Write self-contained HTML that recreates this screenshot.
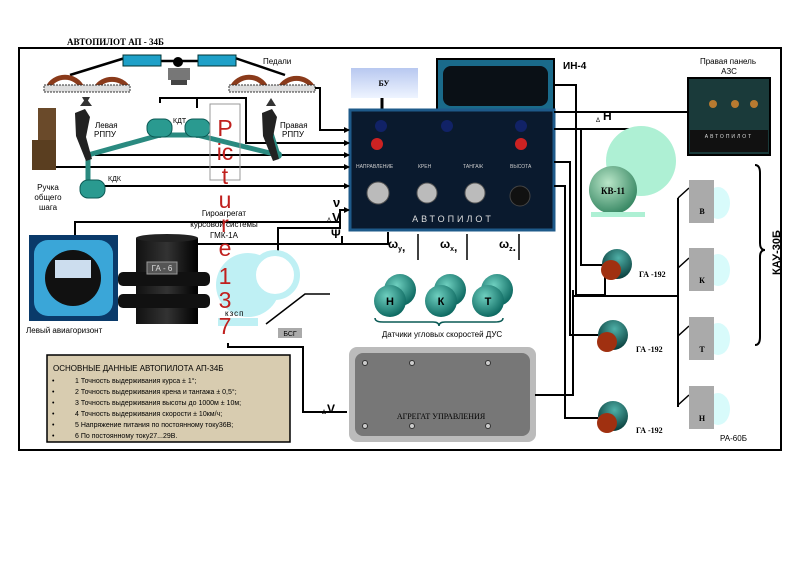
<!DOCTYPE html>
<html><head><meta charset="utf-8"><style>
html,body{margin:0;padding:0;background:#fff;}
svg{display:block;font-family:"Liberation Sans",sans-serif;}
</style></head><body>
<svg width="800" height="563" viewBox="0 0 800 563" xmlns="http://www.w3.org/2000/svg">
<defs>
<radialGradient id="tg" cx="40%" cy="35%" r="65%"><stop offset="0" stop-color="#6fd0c0"/><stop offset="1" stop-color="#0e6a62"/></radialGradient>
<radialGradient id="kv" cx="40%" cy="35%" r="65%"><stop offset="0" stop-color="#b9e6c8"/><stop offset="1" stop-color="#3b8a66"/></radialGradient>
<radialGradient id="ga" cx="55%" cy="30%" r="70%"><stop offset="0" stop-color="#4fb0a8"/><stop offset="1" stop-color="#073a38"/></radialGradient>
<linearGradient id="bu" x1="0" y1="0" x2="0" y2="1"><stop offset="0" stop-color="#b8c8f0"/><stop offset="1" stop-color="#eef4ff"/></linearGradient>
<linearGradient id="cyl" x1="0" y1="0" x2="1" y2="0"><stop offset="0" stop-color="#111"/><stop offset="0.5" stop-color="#333"/><stop offset="1" stop-color="#000"/></linearGradient>
</defs>
<text x="67" y="45" font-family="Liberation Serif,serif" font-weight="bold" font-size="9">АВТОПИЛОТ  АП - 34Б</text>
<rect x="19" y="48" width="762" height="402" fill="none" stroke="#000" stroke-width="2"/>

<!-- pedals -->
<g stroke="#000" stroke-width="2.5" fill="none">
<line x1="70" y1="75" x2="125" y2="58"/><line x1="235" y1="58" x2="285" y2="75"/>
<line x1="160" y1="61" x2="198" y2="61"/>
</g>
<rect x="123" y="55" width="38" height="11" fill="#1ea0c8" stroke="#033" />
<rect x="198" y="55" width="38" height="11" fill="#1ea0c8" stroke="#033"/>
<circle cx="178" cy="62" r="5" fill="#000"/>
<rect x="168" y="68" width="22" height="12" fill="#777"/><rect x="171" y="80" width="16" height="5" fill="#444"/>
<g fill="none" stroke="#8a3a1a" stroke-width="5">
<path d="M48 88 A18 16 0 0 1 82 88"/><path d="M96 88 A18 16 0 0 1 128 88"/>
<path d="M232 88 A18 16 0 0 1 266 88"/><path d="M280 88 A18 16 0 0 1 313 88"/>
</g>
<rect x="44" y="85" width="86" height="7" fill="#ddd" stroke="#333" stroke-dasharray="2 1"/>
<rect x="229" y="85" width="86" height="7" fill="#ddd" stroke="#333" stroke-dasharray="2 1"/>
<polygon points="86,104 82,97 90,97" fill="#333"/><polygon points="86,98 80,106 92,106" fill="#333"/>
<polygon points="271,98 266,106 276,106" fill="#333"/>
<text x="263" y="64" font-size="8">Педали</text>

<!-- lines left section -->
<g stroke="#000" stroke-width="2" fill="none">
<polyline points="160,103 160,98 246,98 246,143 350,143"/>
<line x1="197" y1="98" x2="197" y2="108"/>
<polyline points="315,88 320,88 320,130 350,130"/>
<line x1="95" y1="155" x2="350" y2="155"/>
<line x1="55" y1="167" x2="350" y2="167"/>
<line x1="100" y1="186" x2="350" y2="186"/>
<polyline points="75,240 75,222 340,222 340,210 350,210"/>
<polyline points="278,265 278,228 340,228 340,222"/>
<polyline points="180,244 300,244 320,244 342,244 342,236"/>
</g>
<!-- teal linkage -->
<g stroke="#2a8a80" stroke-width="5" fill="none" stroke-linejoin="round">
<polyline points="88,155 160,135 197,135 278,155"/><line x1="88" y1="155" x2="88" y2="183"/>
<line x1="88" y1="155" x2="80" y2="130"/><line x1="278" y1="155" x2="270" y2="130"/>
</g>
<g fill="#2a8a80"><circle cx="88" cy="155" r="4"/><circle cx="278" cy="155" r="4"/><circle cx="160" cy="135" r="3"/><circle cx="197" cy="135" r="3"/></g>
<g fill="#2a9a90" stroke="#0c5a55">
<rect x="147" y="119" width="25" height="18" rx="8"/><rect x="185" y="119" width="25" height="18" rx="8"/>
<rect x="80" y="180" width="25" height="18" rx="8"/>
</g>
<text x="173" y="123" font-size="7">КДТ</text><text x="108" y="181" font-size="7">КДК</text>
<!-- RPPU -->
<path d="M75 113 l10 -4 l5 8 l-4 20 l6 22 l-6 2 l-10 -25 z" fill="#222"/>
<path d="M262 113 l10 -4 l5 8 l-4 20 l6 22 l-6 2 l-10 -25 z" fill="#222"/>
<text x="95" y="128" font-size="8">Левая</text><text x="94" y="137" font-size="8">РППУ</text>
<text x="280" y="128" font-size="8">Правая</text><text x="282" y="137" font-size="8">РППУ</text>
<!-- handle -->
<rect x="38" y="108" width="18" height="60" fill="#6a4a2a"/><rect x="32" y="140" width="24" height="30" fill="#5a3e20"/>
<text x="48" y="190" font-size="8" text-anchor="middle">Ручка</text><text x="48" y="200" font-size="8" text-anchor="middle">общего</text><text x="48" y="210" font-size="8" text-anchor="middle">шага</text>

<text x="224" y="216" font-size="8" text-anchor="middle">Гироагрегат</text>
<text x="224" y="227" font-size="8" text-anchor="middle">курсовой системы</text>
<text x="224" y="238" font-size="8" text-anchor="middle">ГМК-1А</text>
<text x="333" y="207" font-size="13" font-weight="bold">ν</text>
<text x="327" y="222" font-size="6">Δ</text><text x="332" y="222" font-size="13" font-weight="bold">V</text>
<text x="331" y="238" font-size="12" font-weight="bold">Ψ</text>

<!-- aviagorizont -->
<rect x="29" y="235" width="89" height="86" fill="#0a3a6a"/>
<rect x="34" y="240" width="79" height="76" rx="14" fill="#3aa6d8"/>
<circle cx="73" cy="278" r="28" fill="#111"/><rect x="55" y="260" width="36" height="18" fill="#cde"/>
<text x="26" y="333" font-size="8">Левый авиагоризонт</text>
<!-- GA-6 -->
<rect x="136" y="238" width="62" height="86" fill="url(#cyl)"/>
<ellipse cx="167" cy="238" rx="31" ry="4" fill="#222"/>
<rect x="118" y="272" width="92" height="14" rx="5" fill="#111"/><rect x="118" y="294" width="92" height="14" rx="5" fill="#111"/>
<rect x="147" y="262" width="30" height="12" fill="#555" stroke="#999"/>
<text x="162" y="271" font-size="8" fill="#ddd" text-anchor="middle">ГА - 6</text>
<!-- KZSP -->
<g fill="#bff0f4"><circle cx="248" cy="285" r="32"/><circle cx="275" cy="275" r="22" fill="#fff" stroke="#bff0f4" stroke-width="6"/><rect x="218" y="318" width="40" height="8"/></g>
<text x="225" y="316" font-size="8" letter-spacing="1">кзсп</text>
<polyline points="266,324 305,294 330,294" stroke="#000" fill="none" stroke-width="1.5"/>
<rect x="278" y="328" width="24" height="10" fill="#aaa"/><text x="290" y="336" font-size="7" text-anchor="middle">БСГ</text>
<polyline points="228,343 228,347 303,347 303,412 347,412" stroke="#000" stroke-width="2" fill="none"/>
<text x="322" y="414" font-size="6">Δ</text><text x="327" y="413" font-size="12" font-weight="bold">V</text>
<!-- Picture frame -->
<rect x="210" y="104" width="30" height="76" fill="none" stroke="#999"/>
<g fill="#c0201e" font-size="23" text-anchor="middle">
<text x="225" y="136">P</text><text x="225" y="160">ic</text><text x="225" y="184">t</text><text x="225" y="208">u</text><text x="225" y="232">r</text><text x="225" y="256">e</text><text x="225" y="284">1</text><text x="225" y="308">3</text><text x="225" y="334">7</text>
</g>

<!-- BU -->
<rect x="351" y="68" width="67" height="30" fill="url(#bu)"/><text x="384" y="86" font-family="Liberation Serif,serif" font-weight="bold" font-size="8" text-anchor="middle">БУ</text>
<line x1="382" y1="98" x2="382" y2="110" stroke="#000" stroke-width="3"/>
<!-- IN-4 -->
<rect x="437" y="59" width="117" height="52" fill="#1a6a8a" stroke="#000" stroke-width="2"/>
<rect x="443" y="66" width="105" height="40" rx="8" fill="#0a1016"/>
<text x="563" y="69" font-size="10" font-weight="bold">ИН-4</text>
<!-- autopilot panel -->
<rect x="350" y="110" width="204" height="120" fill="#0a1a2e" stroke="#1e5a8a" stroke-width="3"/>
<circle cx="381" cy="126" r="6" fill="#126"/><circle cx="377" cy="144" r="6" fill="#c22"/>
<circle cx="447" cy="126" r="6" fill="#126"/><circle cx="521" cy="126" r="6" fill="#126"/><circle cx="521" cy="144" r="6" fill="#c22"/>
<g font-size="5" fill="#ccc"><text x="356" y="168">НАПРАВЛЕНИЕ</text><text x="418" y="168">КРЕН</text><text x="463" y="168">ТАНГАЖ</text><text x="510" y="168">ВЫСОТА</text></g>
<g fill="#bbb" stroke="#555"><circle cx="378" cy="193" r="11"/><circle cx="427" cy="193" r="10"/><circle cx="475" cy="193" r="10"/></g>
<circle cx="520" cy="196" r="10" fill="#111" stroke="#444"/>
<text x="453" y="222" font-size="9" fill="#ddd" letter-spacing="3" text-anchor="middle">АВТОПИЛОТ</text>
<!-- arrows into panel -->
<g fill="#000"><polygon points="350,130 344,127 344,133"/><polygon points="350,143 344,140 344,146"/><polygon points="350,155 344,152 344,158"/><polygon points="350,167 344,164 344,170"/><polygon points="350,186 344,183 344,189"/><polygon points="350,210 344,207 344,213"/></g>
<!-- omegas -->
<polyline points="278,244 388,244 388,232" stroke="#000" stroke-width="2" fill="none"/>
<text x="388" y="248" font-size="12" font-weight="bold">ω<tspan font-size="7" dy="3">y</tspan>,</text>
<text x="440" y="248" font-size="12" font-weight="bold">ω<tspan font-size="7" dy="3">x</tspan>,</text>
<text x="499" y="248" font-size="12" font-weight="bold">ω<tspan font-size="7" dy="3">z</tspan>.</text>
<g stroke="#000" stroke-width="1.5"><line x1="418" y1="260" x2="418" y2="234"/><line x1="467" y1="260" x2="467" y2="234"/><line x1="519" y1="260" x2="519" y2="234"/></g>
<!-- DUS -->
<g><circle cx="400" cy="290" r="16" fill="url(#tg)"/><circle cx="390" cy="301" r="16" fill="url(#tg)"/><circle cx="450" cy="290" r="16" fill="url(#tg)"/><circle cx="441" cy="301" r="16" fill="url(#tg)"/><circle cx="497" cy="290" r="16" fill="url(#tg)"/><circle cx="488" cy="301" r="16" fill="url(#tg)"/></g>
<g font-size="11" font-weight="bold" text-anchor="middle"><text x="390" y="305">Н</text><text x="441" y="305">К</text><text x="488" y="305">Т</text></g>
<path d="M375 318 q0 4 8 4 h50 q6 0 6 4 q0 -4 6 -4 h50 q8 0 8 -4" fill="none" stroke="#0a5a55" stroke-width="1.5"/>
<text x="442" y="337" font-size="8" text-anchor="middle">Датчики угловых скоростей  ДУС</text>
<!-- agregat -->
<rect x="349" y="347" width="187" height="95" rx="8" fill="#bbb"/>
<rect x="355" y="353" width="175" height="83" rx="8" fill="#777"/>
<g fill="#ccc" stroke="#333"><circle cx="365" cy="363" r="2.5"/><circle cx="412" cy="363" r="2.5"/><circle cx="488" cy="363" r="2.5"/><circle cx="365" cy="426" r="2.5"/><circle cx="412" cy="426" r="2.5"/><circle cx="488" cy="426" r="2.5"/></g>
<text x="441" y="419" font-family="Liberation Serif,serif" font-size="8" text-anchor="middle">АГРЕГАТ УПРАВЛЕНИЯ</text>
<!-- data box -->
<rect x="47" y="355" width="243" height="87" fill="#d8ccb0" stroke="#000" stroke-width="1.5"/>
<text x="53" y="371" font-size="8">ОСНОВНЫЕ  ДАННЫЕ  АВТОПИЛОТА АП-34Б</text>
<g font-size="7"><text x="52" y="383">•</text><text x="75" y="383">1 Точность выдерживания курса ± 1°;</text>
<text x="52" y="394">•</text><text x="75" y="394">2 Точность выдерживания крена и тангажа  ± 0,5°;</text>
<text x="52" y="405">•</text><text x="75" y="405">3 Точность выдерживания высоты до 1000м ± 10м;</text>
<text x="52" y="416">•</text><text x="75" y="416">4 Точность выдерживания скорости ± 10км/ч;</text>
<text x="52" y="427">•</text><text x="75" y="427">5 Напряжение питания по постоянному току36В;</text>
<text x="52" y="438">•</text><text x="75" y="438">6 По постоянному току27...29В.</text></g>

<!-- right side lines -->
<g stroke="#000" stroke-width="2" fill="none">
<polyline points="554,85 576,85 576,295 605,295 605,265"/>
<line x1="554" y1="112" x2="688" y2="112"/>
<polyline points="554,129 640,129 640,135"/>
<polyline points="581,129 581,265 602,265"/>
<polyline points="554,162 570,162 570,335 598,335"/>
<polyline points="554,186 565,186 565,418 598,418"/>
<polyline points="535,395 573,395 573,290"/>
<polyline points="573,296 678,296"/>
<line x1="678" y1="198" x2="678" y2="407"/>
<g stroke-width="1.5"><line x1="678" y1="198" x2="689" y2="188"/><line x1="678" y1="268" x2="689" y2="258"/><line x1="678" y1="336" x2="689" y2="326"/><line x1="678" y1="405" x2="689" y2="395"/></g>
</g>
<text x="596" y="122" font-size="6">Δ</text><text x="603" y="120" font-size="12" font-weight="bold">Н</text>
<!-- AZS -->
<text x="728" y="64" font-size="8" text-anchor="middle">Правая панель</text><text x="729" y="74" font-size="8" text-anchor="middle">АЗС</text>
<rect x="688" y="78" width="82" height="77" fill="#1a3a3a" stroke="#000" stroke-width="2"/>
<g fill="#b87a30"><circle cx="713" cy="104" r="4"/><circle cx="735" cy="104" r="4"/><circle cx="754" cy="104" r="4"/></g>
<rect x="690" y="130" width="78" height="22" fill="#111"/><text x="729" y="138" font-size="5" fill="#ddd" text-anchor="middle" letter-spacing="2">АВТОПИЛОТ</text>
<!-- KV-11 -->
<circle cx="641" cy="161" r="35" fill="#aef0d4"/>
<circle cx="613" cy="190" r="24" fill="url(#kv)"/>
<text x="613" y="194" font-family="Liberation Serif,serif" font-size="9" font-weight="bold" text-anchor="middle">КВ-11</text>
<rect x="591" y="212" width="54" height="5" fill="#aef0d4"/>
<!-- GA-192 -->
<g><circle cx="617" cy="264" r="15" fill="url(#ga)"/><circle cx="611" cy="270" r="10" fill="#a03010"/>
<circle cx="613" cy="335" r="15" fill="url(#ga)"/><circle cx="607" cy="342" r="10" fill="#a03010"/>
<circle cx="613" cy="416" r="15" fill="url(#ga)"/><circle cx="607" cy="423" r="10" fill="#a03010"/></g>
<g font-family="Liberation Serif,serif" font-size="8" font-weight="bold"><text x="639" y="277">ГА -192</text><text x="636" y="352">ГА -192</text><text x="636" y="433">ГА -192</text></g>
<!-- RA-60 -->
<g fill="#d8fbfb"><ellipse cx="718" cy="203" rx="12" ry="16"/><ellipse cx="718" cy="270" rx="12" ry="16"/><ellipse cx="718" cy="339" rx="12" ry="16"/><ellipse cx="718" cy="409" rx="12" ry="16"/></g>
<g fill="#aaa"><rect x="689" y="180" width="25" height="43"/><rect x="689" y="248" width="25" height="43"/><rect x="689" y="317" width="25" height="43"/><rect x="689" y="386" width="25" height="43"/></g>
<g font-family="Liberation Serif,serif" font-size="8" font-weight="bold" text-anchor="middle"><text x="702" y="214">В</text><text x="702" y="283">К</text><text x="702" y="352">Т</text><text x="702" y="421">Н</text></g>
<text x="720" y="441" font-size="8">РА-60Б</text>
<path d="M755 165 q5 0 5 8 v70 q0 7 5 7 q-5 0 -5 7 v80 q0 8 -5 8" fill="none" stroke="#000" stroke-width="2"/>
<text transform="translate(780,275) rotate(-90)" font-size="11" font-weight="bold">КАУ-30Б</text>
</svg>
</body></html>
